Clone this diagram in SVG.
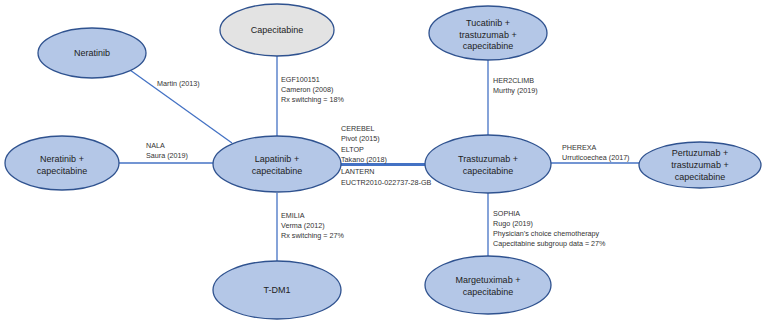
<svg xmlns="http://www.w3.org/2000/svg" width="765" height="324" viewBox="0 0 765 324">
<style>
.n{fill:#b4c7e7;stroke:#2f528f;stroke-width:1.3}
.g{fill:#e3e3e3;stroke:#2f528f;stroke-width:1.3}
.e{stroke:#4472c4;stroke-width:1.3;fill:none}
.t{font-family:"Liberation Sans",Arial,sans-serif;font-size:9px;fill:#222;text-anchor:middle}
.l{font-family:"Liberation Sans",Arial,sans-serif;font-size:7.2px;fill:#333}
</style>
<rect width="765" height="324" fill="#fff"/>
<g id="connectors">
<line class="e" x1="130" y1="70" x2="232" y2="143"/>
<line class="e" x1="277" y1="56" x2="277" y2="136"/>
<line class="e" x1="119" y1="163" x2="213" y2="163"/>
<line class="e" x1="277" y1="193" x2="277" y2="261"/>
<line class="e" x1="341" y1="164.5" x2="425" y2="164.5" style="stroke-width:3"/>
<line class="e" x1="488" y1="60" x2="488" y2="135"/>
<line class="e" x1="551" y1="163" x2="639" y2="163"/>
<line class="e" x1="488" y1="193" x2="488" y2="256"/>
</g>
<g id="edge-labels">
<text class="l" x="157" y="86">Martin (2013)</text>
<text class="l" x="281" y="82">EGF100151</text>
<text class="l" x="281" y="92">Cameron (2008)</text>
<text class="l" x="281" y="102">Rx switching = 18%</text>
<text class="l" x="146" y="148">NALA</text>
<text class="l" x="146" y="158">Saura (2019)</text>
<text class="l" x="341" y="131">CEREBEL</text>
<text class="l" x="341" y="141">Pivot (2015)</text>
<text class="l" x="341" y="152">ELTOP</text>
<text class="l" x="341" y="161.5">Takano (2018)</text>
<text class="l" x="341" y="174">LANTERN</text>
<text class="l" x="341" y="185">EUCTR2010-022737-28-GB</text>
<text class="l" x="281" y="218">EMILIA</text>
<text class="l" x="281" y="228">Verma (2012)</text>
<text class="l" x="281" y="238">Rx switching = 27%</text>
<text class="l" x="493" y="83">HER2CLIMB</text>
<text class="l" x="493" y="93">Murthy (2019)</text>
<text class="l" x="562" y="150">PHEREXA</text>
<text class="l" x="562" y="160">Urruticoechea (2017)</text>
<text class="l" x="493" y="216">SOPHIA</text>
<text class="l" x="493" y="226">Rugo (2019)</text>
<text class="l" x="493" y="236">Physician’s choice chemotherapy</text>
<text class="l" x="493" y="246">Capecitabine subgroup data = 27%</text>
</g>
<g id="neratinib"><ellipse class="n" cx="92" cy="53" rx="54" ry="25"/><text class="t" x="92" y="56">Neratinib</text></g>
<g id="capecitabine"><ellipse class="g" cx="277" cy="30" rx="57" ry="26"/><text class="t" x="277" y="33">Capecitabine</text></g>
<g id="lapatinib"><ellipse class="n" cx="277" cy="164" rx="64" ry="28"/><text class="t" x="277" y="162">Lapatinib +</text><text class="t" x="277" y="174">capecitabine</text></g>
<g id="neratinib-cape"><ellipse class="n" cx="62" cy="163" rx="57" ry="27"/><text class="t" x="62" y="162">Neratinib +</text><text class="t" x="62" y="174">capecitabine</text></g>
<g id="tdm1"><ellipse class="n" cx="277" cy="290" rx="64" ry="29"/><text class="t" x="277" y="293">T-DM1</text></g>
<g id="tucatinib"><ellipse class="n" cx="488" cy="33" rx="59" ry="27"/><text class="t" x="488" y="26">Tucatinib +</text><text class="t" x="488" y="37.5">trastuzumab +</text><text class="t" x="488" y="49">capecitabine</text></g>
<g id="trastuzumab"><ellipse class="n" cx="488" cy="164" rx="63" ry="29"/><text class="t" x="488" y="162">Trastuzumab +</text><text class="t" x="488" y="174">capecitabine</text></g>
<g id="pertuzumab"><ellipse class="n" cx="700" cy="165" rx="61" ry="23"/><text class="t" x="700" y="156">Pertuzumab +</text><text class="t" x="700" y="168">trastuzumab +</text><text class="t" x="700" y="180">capecitabine</text></g>
<g id="margetuximab"><ellipse class="n" cx="488" cy="285" rx="63" ry="29"/><text class="t" x="488" y="283">Margetuximab +</text><text class="t" x="488" y="295">capecitabine</text></g>
</svg>
